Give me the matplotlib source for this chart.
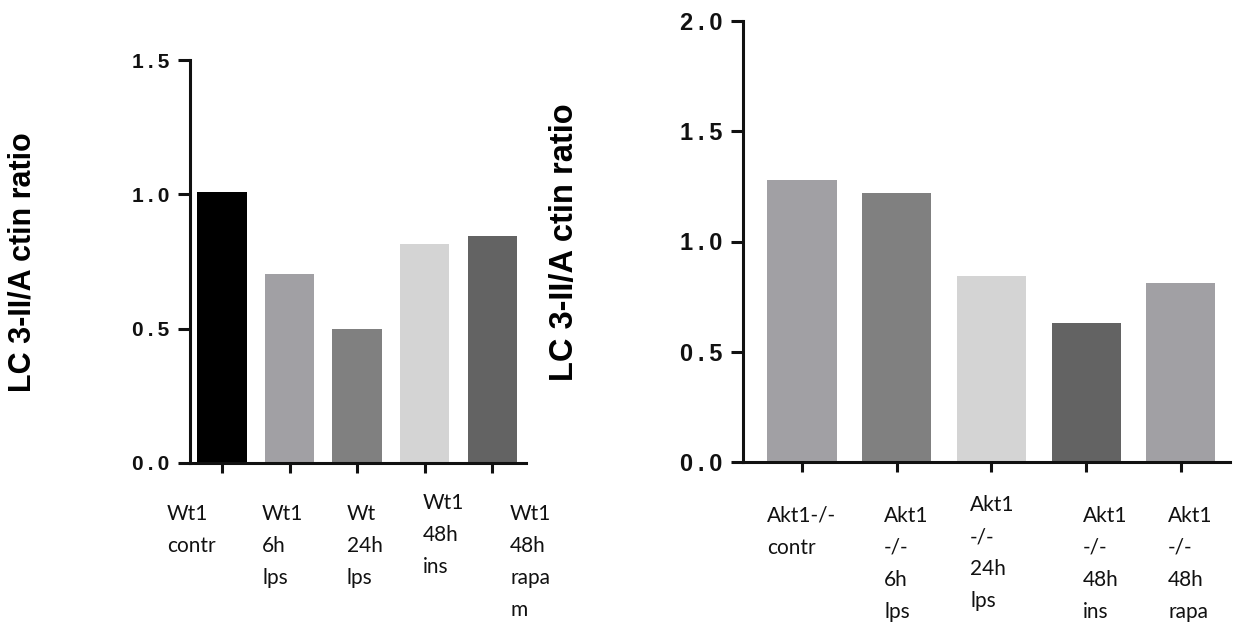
import matplotlib
matplotlib.use("Agg")
import matplotlib.pyplot as plt
from matplotlib.ticker import FixedLocator, FuncFormatter

# Data
wt_labels = ["Wt1\ncontr", "Wt1\n6h\nlps", "Wt\n24h\nlps", "Wt1\n48h\nins", "Wt1\n48h\nrapa\nm"]
wt_values = [1.01, 0.705, 0.50, 0.815, 0.845]
wt_colors = ["#000000", "#a1a0a4", "#808080", "#d4d4d4", "#636363"]

akt_labels = ["Akt1-/-\ncontr", "Akt1\n-/-\n6h\nlps", "Akt1\n-/-\n24h\nlps", "Akt1\n-/-\n48h\nins", "Akt1\n-/-\n48h\nrapa"]
akt_values = [1.28, 1.22, 0.845, 0.63, 0.81]
akt_colors = ["#a1a0a4", "#808080", "#d4d4d4", "#636363", "#a1a0a4"]

ylabel_text = "LC 3-II/A ctin ratio"

plt.rcParams["font.family"] = ["Liberation Sans", "DejaVu Sans"]
plt.rcParams["font.weight"] = "bold"

W, H = 1233, 625
fig = plt.figure(figsize=(W / 100, H / 100), dpi=100)

LINE_STEP = 32  # pixels between caption lines


def px_axes(x0, y0, x1, y1):
    return fig.add_axes([x0 / W, 1 - y1 / H, (x1 - x0) / W, (y1 - y0) / H])


def spaced(v, pos):
    return "\u2009".join(f"{v:.1f}")


def style_axes(ax, ymax, labelsize):
    for side in ("top", "right"):
        ax.spines[side].set_visible(False)
    for side in ("left", "bottom"):
        ax.spines[side].set_linewidth(2.2)
        ax.spines[side].set_color("#111111")
    ax.set_ylim(0, ymax)
    ax.yaxis.set_major_locator(FixedLocator([i * 0.5 for i in range(int(ymax / 0.5) + 1)]))
    ax.yaxis.set_major_formatter(FuncFormatter(spaced))
    ax.tick_params(axis="y", direction="out", length=9, width=2.2, pad=6,
                   colors="#111111", labelsize=labelsize)
    ax.tick_params(axis="x", direction="out", length=7, width=2.2, colors="#111111",
                   labelbottom=False)


def draw_panel(ax, values, colors, xlim, ymax, labelsize):
    x = list(range(len(values)))
    ax.bar(x, values, width=0.73, color=colors, edgecolor="none")
    ax.set_xticks(x)
    ax.set_xlim(*xlim)
    style_axes(ax, ymax, labelsize)


def caption(text, px, py):
    # each line placed on its own baseline, left aligned
    for i, line in enumerate(text.split("\n")):
        fig.text(px / W, 1 - (py + i * LINE_STEP) / H, line, ha="left", va="baseline",
                 family="Lato", weight="normal", size=15, color="#111111")


# Left panel: wild type
ax1 = px_axes(190, 60, 526, 463)
draw_panel(ax1, wt_values, wt_colors, (-0.474, 4.5), 1.5, 15)
ax1.set_ylabel(ylabel_text, weight="bold", size=22)
ax1.yaxis.set_label_coords(23 / W, 1 - 262 / H, transform=fig.transFigure)
ax1.yaxis.label.set_va("center")

# Right panel: Akt1 knockout
ax2 = px_axes(743, 21, 1230, 462)
draw_panel(ax2, akt_values, akt_colors, (-0.623, 4.52), 2.0, 17)
ax2.set_ylabel(ylabel_text, weight="bold", size=23.5)
ax2.yaxis.set_label_coords(564 / W, 1 - 242 / H, transform=fig.transFigure)
ax2.yaxis.label.set_va("center")

# Category captions below each panel
wt_pos = [(167, 520), (262, 520), (347, 520), (423, 509), (510, 520)]
akt_pos = [(767, 522), (884, 522), (970, 511), (1083, 522), (1168, 522)]
for text, (px, py) in zip(wt_labels, wt_pos):
    caption(text, px, py)
for text, (px, py) in zip(akt_labels, akt_pos):
    caption(text, px, py)

fig.savefig("out.png", dpi=100, facecolor="white")
